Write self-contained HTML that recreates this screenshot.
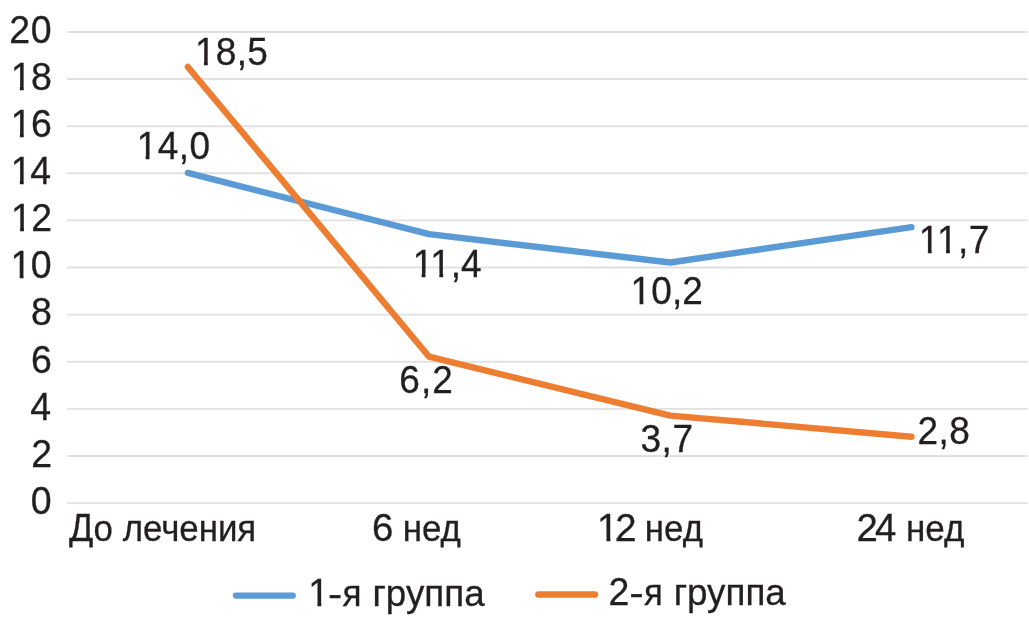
<!DOCTYPE html>
<html lang="ru">
<head>
<meta charset="utf-8">
<title>График</title>
<style>
html,body{margin:0;padding:0;background:#fff;}
body{width:1029px;height:624px;overflow:hidden;}
svg{display:block;}
text{font-family:"Liberation Sans",sans-serif;font-size:39.5px;fill:#231f20;stroke:#231f20;stroke-width:0.3px;white-space:pre;}
</style>
</head>
<body>
<svg width="1029" height="624" viewBox="0 0 1029 624">
<rect width="1029" height="624" fill="#ffffff"/>
<defs><mask id="m" maskUnits="userSpaceOnUse" x="0" y="0" width="1029" height="624">
<rect x="0" y="0" width="1029" height="624" fill="#fff"/>
<g fill="#000">
<rect x="11.69" y="86.22" width="8.19" height="5.49"/>
<rect x="23.75" y="86.22" width="7.90" height="5.49"/>
<rect x="11.69" y="133.34" width="8.19" height="5.49"/>
<rect x="23.75" y="133.34" width="7.90" height="5.49"/>
<rect x="11.65" y="180.45" width="8.19" height="5.49"/>
<rect x="23.71" y="180.45" width="7.90" height="5.49"/>
<rect x="11.89" y="227.57" width="8.19" height="5.49"/>
<rect x="23.95" y="227.57" width="7.90" height="5.49"/>
<rect x="11.49" y="274.69" width="8.19" height="5.49"/>
<rect x="23.55" y="274.69" width="7.90" height="5.49"/>
<rect x="195.83" y="61.26" width="8.11" height="5.49"/>
<rect x="207.77" y="61.26" width="7.83" height="5.49"/>
<rect x="137.53" y="155.66" width="8.11" height="5.49"/>
<rect x="149.47" y="155.66" width="7.83" height="5.49"/>
<rect x="413.53" y="273.06" width="8.11" height="5.49"/>
<rect x="425.47" y="273.06" width="7.82" height="5.49"/>
<rect x="431.25" y="273.06" width="8.11" height="5.49"/>
<rect x="443.19" y="273.06" width="7.82" height="5.49"/>
<rect x="631.43" y="300.66" width="8.11" height="5.49"/>
<rect x="643.37" y="300.66" width="7.83" height="5.49"/>
<rect x="919.73" y="249.46" width="8.11" height="5.49"/>
<rect x="931.67" y="249.46" width="7.83" height="5.49"/>
<rect x="937.93" y="249.46" width="8.11" height="5.49"/>
<rect x="949.87" y="249.46" width="7.83" height="5.49"/>
<rect x="598.11" y="537.56" width="8.35" height="5.49"/>
<rect x="610.41" y="537.56" width="5.69" height="5.49"/>
<rect x="309.23" y="602.16" width="8.19" height="5.49"/>
<rect x="321.29" y="602.16" width="7.90" height="5.49"/>
<rect x="60.00" y="547.50" width="969.00" height="10.00"/>
</g></mask></defs>
<g stroke="#e1e1e1" stroke-width="1.9" fill="none">
<line x1="67" x2="1027.5" y1="31.95" y2="31.95"/>
<line x1="67" x2="1027.5" y1="79.06" y2="79.06"/>
<line x1="67" x2="1027.5" y1="126.18" y2="126.18"/>
<line x1="67" x2="1027.5" y1="173.29" y2="173.29"/>
<line x1="67" x2="1027.5" y1="220.41" y2="220.41"/>
<line x1="67" x2="1027.5" y1="267.53" y2="267.53"/>
<line x1="67" x2="1027.5" y1="314.64" y2="314.64"/>
<line x1="67" x2="1027.5" y1="361.75" y2="361.75"/>
<line x1="67" x2="1027.5" y1="408.87" y2="408.87"/>
<line x1="67" x2="1027.5" y1="455.99" y2="455.99"/>
<line x1="67" x2="1027.5" y1="503.10" y2="503.10"/>
</g>
<polyline fill="none" stroke="#5b9bd5" stroke-width="6.4" stroke-linecap="round" stroke-linejoin="round" points="187.85,172.94 429.05,234.19 670.25,262.46 911.45,227.13"/>
<polyline fill="none" stroke="#ed7d31" stroke-width="6.4" stroke-linecap="round" stroke-linejoin="round" points="187.85,66.94 429.05,356.69 670.25,415.59 911.45,436.79"/>
<line x1="235.95" x2="292.75" y1="595.6" y2="595.6" stroke="#5b9bd5" stroke-width="6.3" stroke-linecap="round"/>
<line x1="538.3" x2="595.05" y1="594.5" y2="594.5" stroke="#ed7d31" stroke-width="6.3" stroke-linecap="round"/>
<g id="alltext" mask="url(#m)">
<g id="ylabels">
<text transform="translate(9.31,42.70) scale(0.95,1)" style="letter-spacing:0.7px">20</text>
<text transform="translate(10.75,89.81) scale(0.95,1)" style="letter-spacing:-0.6px">18</text>
<text transform="translate(10.75,136.93) scale(0.95,1)" style="letter-spacing:-0.6px">16</text>
<text transform="translate(10.71,184.04) scale(0.95,1)" style="letter-spacing:-1.3px">14</text>
<text transform="translate(10.95,231.16) scale(0.95,1)" style="letter-spacing:-0.6px">12</text>
<text transform="translate(10.55,278.28) scale(0.95,1)" style="letter-spacing:-0.6px">10</text>
<text transform="translate(31.06,325.39) scale(0.95,1)">8</text>
<text transform="translate(31.06,372.50) scale(0.95,1)">6</text>
<text transform="translate(30.36,419.62) scale(0.95,1)">4</text>
<text transform="translate(31.26,466.74) scale(0.95,1)">2</text>
<text transform="translate(30.86,513.85) scale(0.95,1)">0</text>
</g>
<g id="dlabels">
<text transform="translate(194.93,64.85) scale(0.95,1)" style="font-size:39px;letter-spacing:0.29px">18,5</text>
<text transform="translate(136.63,159.25) scale(0.95,1)" style="font-size:39px;letter-spacing:0.50px">14,0</text>
<text transform="translate(412.63,276.65) scale(0.95,1)" style="font-size:39px;letter-spacing:-0.13px">11,4</text>
<text transform="translate(630.53,304.25) scale(0.95,1)" style="font-size:39px;letter-spacing:0.11px">10,2</text>
<text transform="translate(918.83,253.05) scale(0.95,1)" style="font-size:39px;letter-spacing:0.38px">11,7</text>
<text transform="translate(399.24,392.95) scale(0.95,1)" style="font-size:39px;letter-spacing:1.11px">6,2</text>
<text transform="translate(640.44,452.45) scale(0.95,1)" style="font-size:39px;letter-spacing:0.59px">3,7</text>
<text transform="translate(917.54,443.90) scale(0.95,1)" style="font-size:39px;letter-spacing:0.46px">2,8</text>
</g>
<g id="xlabels">
<text y="541.15"><tspan x="69.12" style="font-size:38.41px" textLength="24.35" lengthAdjust="spacingAndGlyphs">Д</tspan><tspan x="93.60" style="font-size:36.47px" textLength="162.62" lengthAdjust="spacingAndGlyphs">о лечения</tspan></text>
<text y="541.15"><tspan x="372.08" style="font-size:38.4px;">6</tspan><tspan x="392.98" style="font-size:36.47px" textLength="67.91" lengthAdjust="spacingAndGlyphs"> нед</tspan></text>
<text y="541.15"><tspan x="597.11" style="font-size:38.4px;letter-spacing:-3.10px;">12</tspan><tspan x="635.20" style="font-size:36.47px" textLength="67.79" lengthAdjust="spacingAndGlyphs"> нед</tspan></text>
<text y="541.15"><tspan x="856.58" style="font-size:38.4px;letter-spacing:-2.83px;">24</tspan><tspan x="896.24" style="font-size:36.47px" textLength="68.16" lengthAdjust="spacingAndGlyphs"> нед</tspan></text>
</g>
<g id="legend">
<text y="605.75"><tspan x="308.29" textLength="20.88" lengthAdjust="spacingAndGlyphs">1</tspan><tspan x="328.13" style="font-size:36.47px" textLength="14.23" lengthAdjust="spacingAndGlyphs">-</tspan><tspan x="342.41" style="font-size:36.47px" textLength="19.01" lengthAdjust="spacingAndGlyphs">я</tspan><tspan x="362.21" style="font-size:36.47px" textLength="122.44" lengthAdjust="spacingAndGlyphs"> группа</tspan></text>
<text y="604.75"><tspan x="608.53" textLength="20.88" lengthAdjust="spacingAndGlyphs">2</tspan><tspan x="629.30" style="font-size:36.47px" textLength="14.51" lengthAdjust="spacingAndGlyphs">-</tspan><tspan x="644.02" style="font-size:36.47px" textLength="18.78" lengthAdjust="spacingAndGlyphs">я</tspan><tspan x="663.48" style="font-size:36.47px" textLength="122.27" lengthAdjust="spacingAndGlyphs"> группа</tspan></text>
</g>
</g>
</svg>
</body>
</html>
